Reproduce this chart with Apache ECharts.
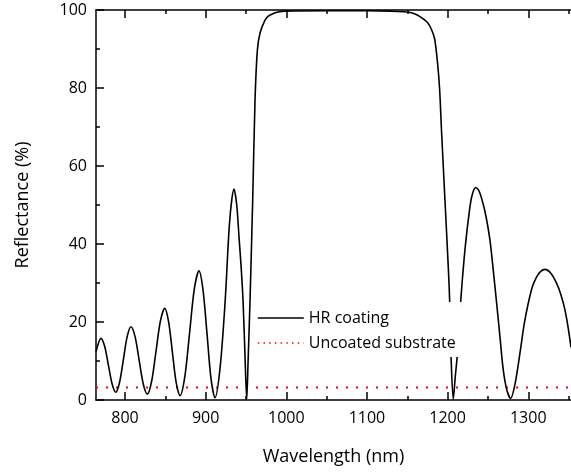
<!DOCTYPE html>
<html>
<head>
<meta charset="utf-8">
<script src="https://cdn.jsdelivr.net/npm/echarts@6/dist/echarts.min.js"></script>
<style>
html,body{margin:0;padding:0;background:#fff;}
#chart{width:571px;height:473px;}
</style>
</head>
<body>
<div id="chart"></div>
<script>
// Wavelength (nm) and reflectance (%)
var hrWavelength = [
  764, 770.2, 774.8, 779.4, 784.0, 788.5, 793.2, 798.0, 802.7, 807.4,
  812.5, 817.5, 822.6, 827.6, 833.0, 838.4, 843.8, 849.2, 854.0, 858.7,
  863.4, 868.2, 874.1, 880.0, 885.8, 891.7, 896.7, 901.7, 906.6, 911.6,
  918.0, 924.2, 929.8, 935.1, 938.5, 941.3, 944.0, 946.3, 948.5, 950.9,
  952.6, 955.0, 958.3, 961.2, 964.1, 967.4, 973.6, 978.0, 983.9, 990.0,
  998.4, 1050, 1100, 1130, 1149.2, 1158, 1165.7, 1175, 1180, 1184,
  1187.7, 1190, 1192.6, 1196.7, 1200.8, 1202.6, 1204.2, 1207.0, 1209.5, 1212.0,
  1216.2, 1221.5, 1227.7, 1231.0, 1234.8, 1239.0, 1244.0, 1248.0, 1252.5, 1256.5, 1260.8,
  1265.0, 1269.0, 1273.5, 1278.2, 1283.5, 1289.7, 1295.0, 1300.0, 1305.0, 1310.4,
  1315.5, 1320.7, 1328.0, 1335.2, 1340.5, 1345.5, 1349.5, 1353
];
var hrReflectance = [
  12.4, 15.8, 13.7, 8.9, 4.1, 2.0, 4.5, 10.4, 16.3, 18.8,
  16.2, 10.2, 4.1, 1.5, 4.8, 12.5, 20.2, 23.5, 20.1, 12.3,
  4.5, 1.1, 5.9, 17.1, 28.3, 33.1, 28.2, 16.9, 5.5, 0.6,
  8.5, 25.5, 46.0, 54.1, 50.0, 41.9, 34.0, 25.6, 13.0, 0.2,
  10.0, 25.6, 51.3, 76.9, 89.7, 94.1, 97.4, 98.5, 99.1, 99.5,
  99.7, 99.8, 99.8, 99.7, 99.5, 99.1, 98.3, 96.8, 95.0, 92.5,
  86.0, 80.0, 68.4, 51.3, 34.2, 25.2, 11.5, 0.2, 6.0, 11.5,
  25.2, 38.5, 49.6, 53.0, 54.5, 53.6, 50.3, 46.6, 41.0, 33.5, 24.8,
  16.0, 7.7, 2.5, 0.4, 4.0, 12.0, 19.5, 24.8, 29.0, 31.6,
  33.0, 33.5, 32.5, 29.9, 27.0, 23.1, 18.5, 13.5
];
var substrateWavelength = [764, 1353];
var substrateReflectance = [3.2, 3.2];
var xTickLabels = [800, 900, 1000, 1100, 1200, 1300];
var xMinorTicks = [850, 950, 1050, 1150, 1250, 1350];
var seriesNames = ['HR coating', 'Uncoated substrate'];

function pairs(xs, ys) { return xs.map(function (x, i) { return [x, ys[i]]; }); }

var font = '"Open Sans", "Noto Sans", sans-serif';
var chart = echarts.init(document.getElementById('chart'), null, {renderer: 'canvas'});
var xMin = 764, xMax = 1353;
var axisLine = {show: true, lineStyle: {color: '#000', width: 1.5}};
chart.setOption({
  animation: false,
  backgroundColor: '#fff',
  grid: {left: 96, right: 0, top: 10, bottom: 73},
  legend: {
    orient: 'vertical', left: 251, top: 302,
    padding: [8, 6, 6, 6],
    backgroundColor: '#fff',
    itemWidth: 46, itemHeight: 14, itemGap: 9,
    itemStyle: {opacity: 0},
    textStyle: {fontFamily: font, fontSize: 16, color: '#000', lineHeight: 16},
    data: [
      {name: seriesNames[0], lineStyle: {color: '#000', width: 1.6, type: 'solid'}},
      {name: seriesNames[1], lineStyle: {color: '#ff0000', width: 1.5, type: [1.5, 4.2]}}
    ]
  },
  xAxis: [
    {type: 'value', min: xMin, max: xMax, position: 'bottom',
     name: 'Wavelength (nm)', nameLocation: 'middle', nameGap: 48,
     nameTextStyle: {fontFamily: font, fontSize: 18, color: '#000'},
     axisLine: axisLine,
     axisTick: {show: true, inside: true, length: 8, lineStyle: {color: '#000', width: 1.5}, customValues: xTickLabels},
     axisLabel: {show: true, margin: 10, fontFamily: font, fontSize: 16, color: '#000', customValues: xTickLabels,
                 formatter: function (v) { return String(v); }},
     splitLine: {show: false}},
    {type: 'value', min: xMin, max: xMax, position: 'bottom',
     axisLine: {show: false},
     axisTick: {show: true, inside: true, length: 4, lineStyle: {color: '#000', width: 1.5}, customValues: xMinorTicks},
     axisLabel: {show: false}, splitLine: {show: false}},
    {type: 'value', min: xMin, max: xMax, position: 'top',
     axisLine: axisLine,
     axisTick: {show: true, inside: true, length: 8, lineStyle: {color: '#000', width: 1.5}, customValues: xTickLabels},
     axisLabel: {show: false}, splitLine: {show: false}},
    {type: 'value', min: xMin, max: xMax, position: 'top',
     axisLine: {show: false},
     axisTick: {show: true, inside: true, length: 4, lineStyle: {color: '#000', width: 1.5}, customValues: xMinorTicks},
     axisLabel: {show: false}, splitLine: {show: false}}
  ],
  yAxis: [
    {type: 'value', min: 0, max: 100, interval: 20, position: 'left',
     name: 'Reflectance (%)', nameLocation: 'middle', nameGap: 64,
     nameTextStyle: {fontFamily: font, fontSize: 18, color: '#000'},
     axisLine: axisLine,
     axisTick: {show: true, inside: true, length: 8, lineStyle: {color: '#000', width: 1.5}},
     minorTick: {show: true, splitNumber: 2, length: 4, lineStyle: {color: '#000', width: 1.5}},
     axisLabel: {margin: 9, fontFamily: font, fontSize: 16, color: '#000'},
     splitLine: {show: false}, minorSplitLine: {show: false}}
  ],
  series: [
    {name: seriesNames[0], type: 'line', data: pairs(hrWavelength, hrReflectance),
     smooth: 0.3, showSymbol: false, symbol: 'none',
     lineStyle: {color: '#000', width: 1.6}, itemStyle: {color: '#000'}, z: 2},
    {name: seriesNames[1], type: 'line', data: pairs(substrateWavelength, substrateReflectance),
     showSymbol: false, symbol: 'none',
     lineStyle: {color: '#ff0000', width: 2, type: [2, 8]}, itemStyle: {color: '#ff0000'}, z: 1}
  ]
});
</script>
</body>
</html>
